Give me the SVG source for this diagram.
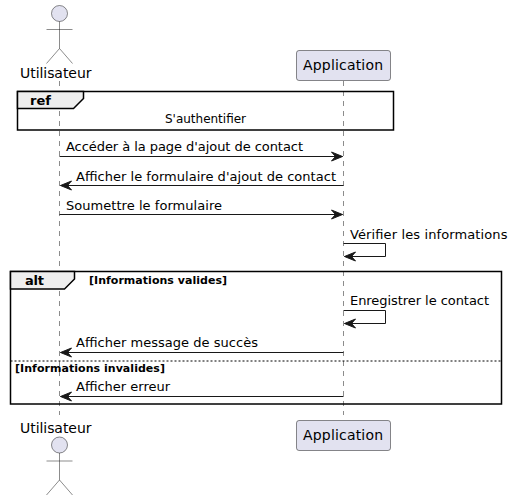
<svg xmlns="http://www.w3.org/2000/svg" width="514" height="501" viewBox="0 0 514 501">
<defs>
<marker id="arrow" markerUnits="userSpaceOnUse" markerWidth="14" markerHeight="12" refX="12" refY="5.5" orient="auto-start-reverse" overflow="visible"><path d="M1 1L12 5.5L1 10L5 5.5Z" fill="#181818" stroke="#181818" stroke-width="1"/></marker>
</defs>
<style>
text{font-family:"DejaVu Sans",sans-serif;fill:#000}
.p{font-size:14px}
.m{font-size:13px}
.s{font-size:12px}
.g{font-size:11px;font-weight:bold}
.f{font-size:13px;font-weight:bold}
.life{stroke:#181818;stroke-width:.5;stroke-dasharray:5 5;fill:none}
.a{fill:#E2E2F0;stroke:#181818;stroke-width:.5}
.ln{stroke:#181818;stroke-width:.5;fill:none}
.msg{stroke:#181818;stroke-width:1;fill:none;marker-end:url(#arrow)}
.frame{fill:none;stroke:#000;stroke-width:1.5}
.tab{fill:#EEEEEE;stroke:#000;stroke-width:1.5}
</style>
<rect width="514" height="501" fill="#fff"/>
<g id="lifelines">
<line class="life" x1="59.5" y1="81" x2="59.5" y2="415"/>
<line class="life" x1="343.5" y1="81" x2="343.5" y2="415"/>
</g>
<g id="actor-top">
<circle class="a" cx="59.5" cy="13.5" r="8"/>
<path class="ln" d="M59.5 21.5V48.5M46.5 29.5H72.5M59.5 48.5L46.5 63.5M59.5 48.5L72.5 63.5"/>
<text class="p" x="20" y="78" textLength="71.5" lengthAdjust="spacing">Utilisateur</text>
</g>
<g id="application-top">
<rect class="a" x="296.5" y="50.5" width="94" height="30" rx="2.5"/>
<text class="p" x="303" y="70" textLength="80" lengthAdjust="spacing">Application</text>
</g>
<g id="ref-frame">
<rect class="frame" x="17.5" y="91.5" width="376" height="38.5"/>
<path class="tab" d="M17.5 91.5H83.5V98.5L73.5 108.5H17.5Z"/>
<text class="f" x="30" y="105" textLength="21" lengthAdjust="spacing">ref</text>
<text class="s" x="165" y="123" textLength="81" lengthAdjust="spacing">S'authentifier</text>
</g>
<g id="alt-frame">
<rect class="frame" x="10.5" y="271.5" width="491" height="132.5"/>
<path class="tab" d="M10.5 271.5H74.5V279L64.5 289H10.5Z"/>
<text class="f" x="25" y="285" textLength="19" lengthAdjust="spacing">alt</text>
<text class="g" x="89" y="284" textLength="138" lengthAdjust="spacing">[Informations valides]</text>
<line x1="10.5" y1="361" x2="501.5" y2="361" stroke="#000" stroke-width="1" stroke-dasharray="2 2"/>
<text class="g" x="15" y="372" textLength="150" lengthAdjust="spacing">[Informations invalides]</text>
</g>
<g id="connectors">
<line class="msg" x1="59.5" y1="156.5" x2="342.5" y2="156.5"/>
<line class="msg" x1="343.5" y1="185.5" x2="60.5" y2="185.5"/>
<line class="msg" x1="59.5" y1="214.5" x2="342.5" y2="214.5"/>
<path class="msg" d="M343.5 243.5H385.5V256.5H344.5"/>
<path class="msg" d="M343.5 310.5H385.5V323.5H344.5"/>
<line class="msg" x1="343.5" y1="352.5" x2="60.5" y2="352.5"/>
<line class="msg" x1="343.5" y1="396.5" x2="60.5" y2="396.5"/>
</g>
<g id="labels">
<text class="m" x="66" y="151" textLength="237" lengthAdjust="spacing">Accéder à la page d'ajout de contact</text>
<text class="m" x="76" y="181" textLength="260" lengthAdjust="spacing">Afficher le formulaire d'ajout de contact</text>
<text class="m" x="66" y="210" textLength="156" lengthAdjust="spacing">Soumettre le formulaire</text>
<text class="m" x="350" y="239" textLength="157.5" lengthAdjust="spacing">Vérifier les informations</text>
<text class="m" x="350" y="305" textLength="139" lengthAdjust="spacing">Enregistrer le contact</text>
<text class="m" x="76" y="347" textLength="182" lengthAdjust="spacing">Afficher message de succès</text>
<text class="m" x="76" y="391" textLength="94" lengthAdjust="spacing">Afficher erreur</text>
</g>
<g id="actor-bottom">
<text class="p" x="20" y="433" textLength="71.5" lengthAdjust="spacing">Utilisateur</text>
<circle class="a" cx="59.5" cy="445" r="8"/>
<path class="ln" d="M59.5 453V480M46.5 461H72.5M59.5 480L46.5 495M59.5 480L72.5 495"/>
</g>
<g id="application-bottom">
<rect class="a" x="296.5" y="420.5" width="94" height="30" rx="2.5"/>
<text class="p" x="303" y="440" textLength="80" lengthAdjust="spacing">Application</text>
</g>
</svg>
